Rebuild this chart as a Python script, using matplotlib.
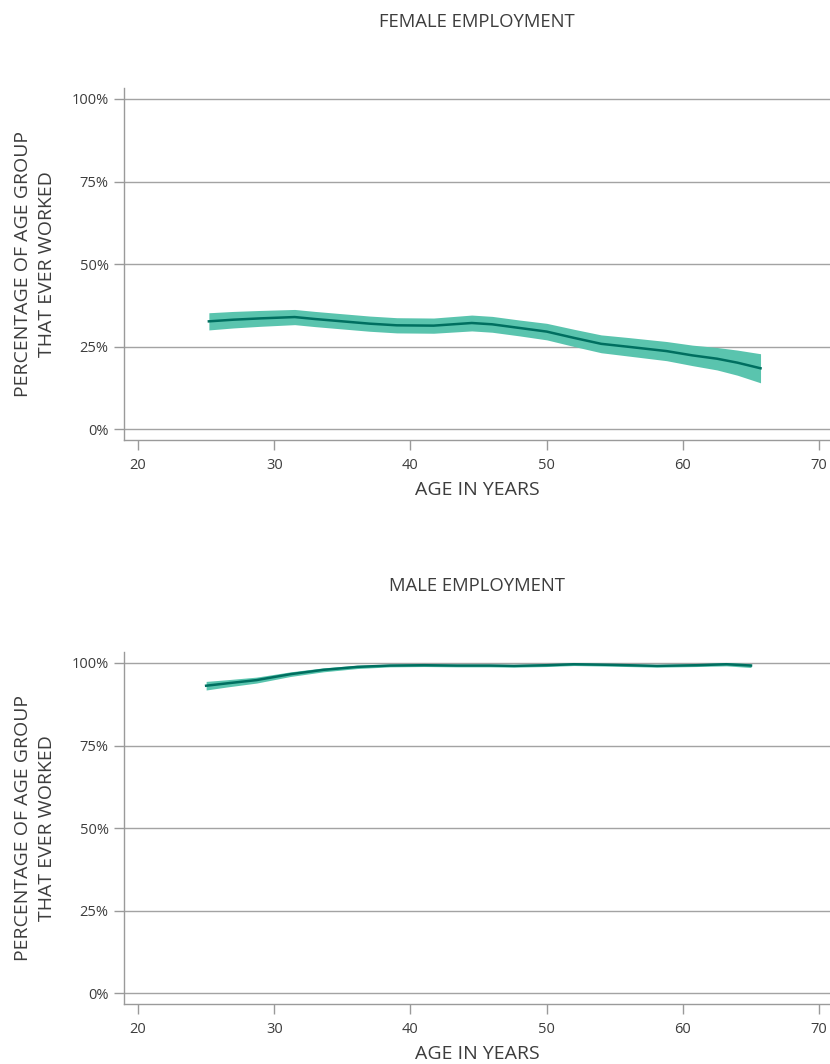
import matplotlib
matplotlib.use("Agg")
import matplotlib.pyplot as plt
from matplotlib.ticker import FuncFormatter

plt.rcParams['font.family'] = ['Open Sans', 'DejaVu Sans']

# ---- data ----
female_age = [25.2, 27, 29, 31.5, 33, 35, 37, 39, 41.7, 44.5, 46, 48, 50, 52, 54, 56, 58.8, 60.7, 62.5, 64, 65.7]
female_mean = [32.7, 33.2, 33.6, 34.0, 33.4, 32.7, 32.0, 31.5, 31.4, 32.2, 31.8, 30.7, 29.6, 27.7, 25.9, 25.0, 23.7, 22.4, 21.4, 20.2, 18.5]
female_low = [30.1, 30.7, 31.2, 31.7, 31.1, 30.4, 29.7, 29.2, 29.1, 29.8, 29.4, 28.3, 27.1, 25.1, 23.2, 22.2, 20.8, 19.3, 18.0, 16.4, 14.1]
female_high = [35.3, 35.7, 36.0, 36.3, 35.7, 35.0, 34.3, 33.8, 33.7, 34.6, 34.2, 33.1, 32.1, 30.3, 28.6, 27.8, 26.6, 25.5, 24.8, 24.0, 22.9]

male_age = [25.0, 26.5, 28.7, 31.2, 33.6, 36.1, 38.5, 41.0, 43.4, 45.8, 47.6, 50.0, 52.0, 54.9, 58.1, 61.0, 63.2, 65.0]
male_mean = [93.1, 93.8, 94.8, 96.6, 97.9, 98.8, 99.2, 99.3, 99.2, 99.2, 99.1, 99.3, 99.6, 99.4, 99.1, 99.3, 99.6, 99.2]
male_low = [91.8, 92.7, 93.9, 95.9, 97.3, 98.3, 98.8, 98.9, 98.8, 98.8, 98.7, 98.9, 99.2, 99.0, 98.7, 98.9, 99.1, 98.6]
male_high = [94.4, 94.9, 95.7, 97.3, 98.5, 99.3, 99.6, 99.7, 99.6, 99.6, 99.5, 99.7, 100.0, 99.8, 99.5, 99.7, 100.1, 99.8]

x_ticks = [20, 30, 40, 50, 60, 70]
y_ticks = [0, 25, 50, 75, 100]

titles = ["FEMALE EMPLOYMENT", "MALE EMPLOYMENT"]
x_label = "AGE IN YEARS"
y_label = "PERCENTAGE OF AGE GROUP\nTHAT EVER WORKED"

BAND = '#5ac4ae'
LINE = '#006f60'
GRID = '#a3a3a3'
SPINE = '#9a9a9a'
TEXT = '#3d3d3d'

W, H = 830, 1064
fig = plt.figure(figsize=(W / 100, H / 100), dpi=100)

def make_ax(top_px, bottom_px):
    left = 124 / W
    return fig.add_axes([left, 1 - bottom_px / H, 1 - left, (bottom_px - top_px) / H])

axes = [make_ax(88, 440), make_ax(652, 1004)]
series = [(female_age, female_mean, female_low, female_high),
          (male_age, male_mean, male_low, male_high)]

for ax, title, (age, mean, low, high) in zip(axes, titles, series):
    ax.fill_between(age, low, high, color=BAND, linewidth=0, zorder=2)
    ax.plot(age, mean, color=LINE, linewidth=1.8, zorder=3, solid_joinstyle='round')
    ax.set_xlim(18.97, 70.8)
    ax.set_ylim(-3.2, 103.3)
    ax.set_xticks(x_ticks)
    ax.set_yticks(y_ticks)
    ax.yaxis.set_major_formatter(FuncFormatter(lambda v, p: f"{int(v)}%"))
    ax.grid(axis='y', color=GRID, linewidth=1.0, zorder=1)
    for s in ['top', 'right']:
        ax.spines[s].set_visible(False)
    for s in ['left', 'bottom']:
        ax.spines[s].set_color(SPINE)
        ax.spines[s].set_linewidth(1.0)
    ax.tick_params(axis='both', colors=SPINE, labelcolor=TEXT, labelsize=10.5,
                   length=7, width=1.0)
    ax.tick_params(axis='y', pad=4)
    ax.tick_params(axis='x', pad=6)
    ax.set_title(title, fontsize=13.3, color=TEXT, pad=44)
    ax.set_xlabel(x_label, fontsize=14, color=TEXT, labelpad=6)
    ax.set_ylabel(y_label, fontsize=14, color=TEXT, labelpad=11, linespacing=1.45)

fig.savefig("out.png", dpi=100, facecolor='white')
